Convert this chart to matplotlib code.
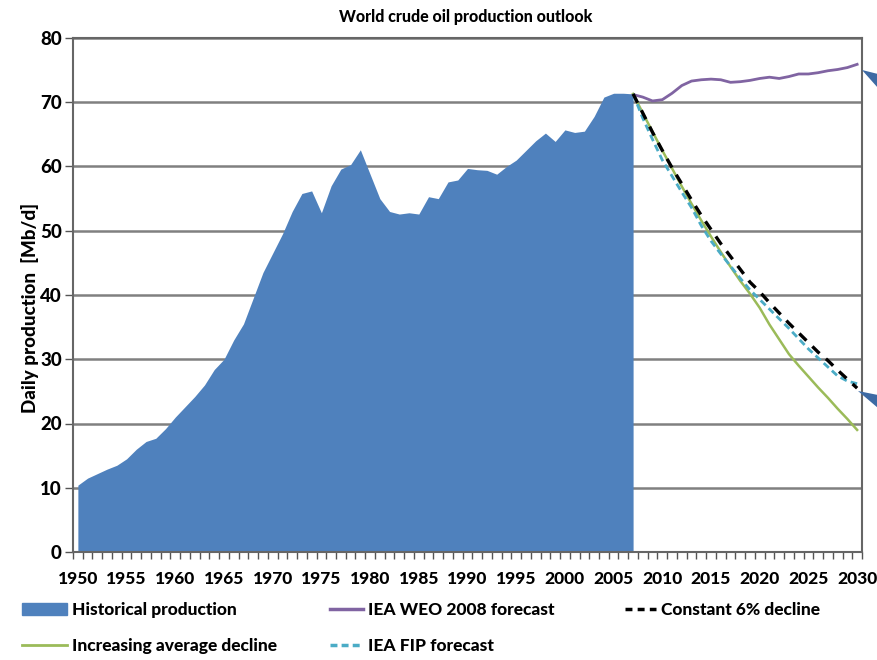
import matplotlib
matplotlib.use("Agg")
import matplotlib.pyplot as plt
from matplotlib.patches import Patch, Polygon
from matplotlib.lines import Line2D

plt.rcParams['font.family'] = ['Lato', 'DejaVu Sans']
WT = 'black'

# historical production 1950-2007 (Mb/d)
hist_years = list(range(1950, 2008))
hist_vals = [10.4, 11.5, 12.2, 12.9, 13.5, 14.5, 16.0, 17.2, 17.7, 19.2,
             21.0, 22.6, 24.2, 26.0, 28.4, 30.0, 33.0, 35.5, 39.5, 43.5,
             46.5, 49.5, 53.0, 55.8, 56.2, 52.8, 57.0, 59.6, 60.3, 62.6,
             58.8, 55.0, 53.0, 52.6, 52.8, 52.6, 55.3, 55.0, 57.6, 57.9,
             59.7, 59.5, 59.4, 58.8, 60.0, 61.0, 62.5, 64.0, 65.2, 63.9,
             65.7, 65.3, 65.5, 67.8, 70.8, 71.4, 71.4, 71.3]

# forecasts 2007-2030
fc_years = list(range(2007, 2031))
weo_2008 = [71.2, 70.8, 70.2, 70.4, 71.4, 72.6, 73.3, 73.5, 73.6, 73.5,
            73.1, 73.2, 73.4, 73.7, 73.9, 73.7, 74.0, 74.4, 74.4, 74.6,
            74.9, 75.1, 75.4, 75.9]
const_decline = [71.3, 68.3, 65.3, 62.5, 59.8, 57.3, 54.8, 52.4, 50.2, 48.0,
                 46.0, 44.0, 42.0, 40.5, 38.8, 37.2, 35.6, 34.1, 32.6, 31.1,
                 29.8, 28.3, 26.9, 25.5]
incr_decline = [71.3, 68.3, 65.4, 62.5, 59.7, 56.9, 54.2, 51.6, 49.1, 46.7,
                44.4, 42.2, 40.2, 38.0, 35.4, 33.1, 30.8, 29.0, 27.3, 25.6,
                24.0, 22.3, 20.7, 19.0]
iea_fip = [71.3, 67.5, 64.2, 61.0, 58.5, 56.0, 53.6, 50.8, 48.4, 46.4,
           44.5, 42.6, 40.8, 39.3, 37.8, 36.3, 34.8, 33.2, 31.6, 30.2,
           28.8, 27.4, 26.6, 26.2]

year_ticks = list(range(1950, 2031, 5))

W, H = 877, 660
fig = plt.figure(figsize=(W / 100, H / 100), dpi=100)
ax = fig.add_axes([73 / W, 1 - 552 / H, 789 / W, 514 / H])

ax.fill_between(hist_years, 0, hist_vals, color="#4f81bd", lw=0, zorder=2)
ax.plot(fc_years, weo_2008, color="#8064a2", lw=2.0, zorder=3)
ax.plot(fc_years, incr_decline, color="#9bbb59", lw=1.8, zorder=3)
ax.plot(fc_years, const_decline, color="black", lw=2.4, ls=(0, (3, 2.5)), zorder=4)
ax.plot(fc_years, iea_fip, color="#4bacc6", lw=2.0, ls=(0, (2.5, 1.5)), zorder=3)

ax.set_xlim(1949.5, 2030.5)
ax.set_ylim(0, 80)
ax.set_yticks(range(0, 81, 10))
ax.set_xticks(year_ticks)
ax.set_xticks([y - 0.5 for y in range(1950, 2032)], minor=True)
ax.tick_params(axis='x', which='major', length=0, pad=14, labelsize=12.5)
ax.tick_params(axis='x', which='minor', length=5, width=1, color="#555555", direction='out')
ax.tick_params(axis='y', length=6, width=1, color="#555555", labelsize=13.5, pad=2)
for lab in ax.get_xticklabels() + ax.get_yticklabels():
    lab.set_fontweight(WT)

ax.yaxis.grid(True, color="#808080", lw=1.8, zorder=1)
ax.set_axisbelow(True)
for s in ax.spines.values():
    s.set_color("#666666")
    s.set_linewidth(1.5)

ax.set_ylabel("Daily production  [Mb/d]", fontsize=13.5, fontweight=WT)
ax.yaxis.set_label_coords(-0.043, 0.475)
fig.text(466 / W, 1 - 17 / H, "World crude oil production outlook", ha='center', va='center',
         fontsize=11.5, fontweight=WT)

# decorative pointer wedges cut off at the right edge
for tip, top, bot in [((862, 70), (878, 74), (878, 88)),
                      ((858, 391), (878, 395), (878, 408))]:
    pts = [(px / W, 1 - py / H) for px, py in (tip, top, bot)]
    fig.patches.append(Polygon(pts, closed=True, transform=fig.transFigure,
                               color="#3d6aa4", lw=0))

# legend in three columns
cols = [
    ([Patch(color="#4f81bd"), Line2D([], [], color="#9bbb59", lw=2)],
     ["Historical production", "Increasing average decline"], 22, 2.6),
    ([Line2D([], [], color="#8064a2", lw=2.5), Line2D([], [], color="#4bacc6", lw=2.5, ls=(0, (2, 1.2)))],
     ["IEA WEO 2008 forecast", "IEA FIP forecast"], 330, 1.9),
    ([Line2D([], [], color="black", lw=2.5, ls=(0, (2, 1.5)))],
     ["Constant 6% decline"], 625, 1.8),
]
for handles, labels, xpos, hl in cols:
    fig.legend(handles, labels, loc='upper left', bbox_to_anchor=(xpos / W, 1 - 602 / H),
               frameon=False, handlelength=hl, handletextpad=0.3,
               labelspacing=1.15, borderaxespad=0, borderpad=0,
               prop={'weight': WT, 'size': 12.5})

fig.savefig("out.png", dpi=100)
